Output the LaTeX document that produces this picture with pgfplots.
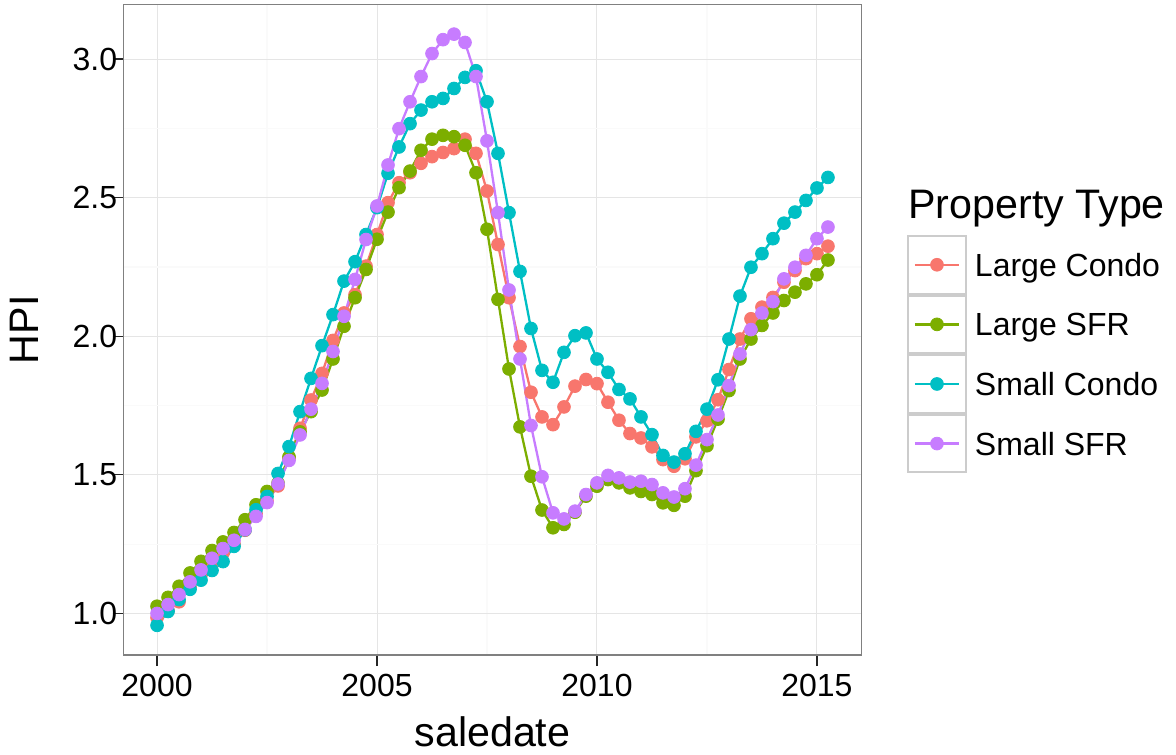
\documentclass[border=0pt]{standalone}
\usepackage{pgfplots}
\pgfplotsset{compat=1.18}
\usepackage{pgfplotstable}
\usepackage{fontspec}
\setmainfont{Liberation Sans}
\definecolor{cLC}{HTML}{F8766D}
\definecolor{cLS}{HTML}{7CAE00}
\definecolor{cSC}{HTML}{00BFC4}
\definecolor{cSS}{HTML}{C77CFF}
\pgfplotstableread{
t LC LS SC SS
2000.00 0.985 1.026 0.957 1.000
2000.25 1.010 1.058 1.007 1.032
2000.50 1.042 1.098 1.050 1.068
2000.75 1.095 1.146 1.087 1.114
2001.00 1.140 1.188 1.120 1.157
2001.25 1.180 1.227 1.155 1.199
2001.50 1.218 1.258 1.187 1.234
2001.75 1.250 1.292 1.242 1.264
2002.00 1.300 1.338 1.302 1.303
2002.25 1.360 1.392 1.374 1.350
2002.50 1.405 1.440 1.422 1.400
2002.75 1.460 1.470 1.505 1.467
2003.00 1.560 1.565 1.602 1.552
2003.25 1.668 1.655 1.728 1.644
2003.50 1.770 1.728 1.848 1.737
2003.75 1.866 1.806 1.966 1.830
2004.00 1.985 1.918 2.078 1.945
2004.25 2.084 2.036 2.199 2.072
2004.50 2.150 2.139 2.269 2.205
2004.75 2.253 2.241 2.367 2.349
2005.00 2.367 2.350 2.464 2.470
2005.25 2.482 2.448 2.588 2.618
2005.50 2.554 2.536 2.683 2.749
2005.75 2.590 2.596 2.767 2.846
2006.00 2.624 2.671 2.816 2.937
2006.25 2.648 2.711 2.846 3.020
2006.50 2.663 2.725 2.858 3.070
2006.75 2.677 2.720 2.894 3.090
2007.00 2.711 2.689 2.934 3.060
2007.25 2.660 2.590 2.958 2.937
2007.50 2.524 2.386 2.846 2.705
2007.75 2.331 2.133 2.660 2.446
2008.00 2.139 1.882 2.446 2.167
2008.25 1.963 1.673 2.234 1.918
2008.50 1.798 1.495 2.028 1.678
2008.75 1.709 1.373 1.877 1.493
2009.00 1.681 1.309 1.834 1.363
2009.25 1.745 1.321 1.942 1.341
2009.50 1.820 1.365 2.002 1.369
2009.75 1.844 1.423 2.012 1.429
2010.00 1.829 1.459 1.918 1.471
2010.25 1.762 1.483 1.870 1.498
2010.50 1.697 1.471 1.808 1.489
2010.75 1.649 1.453 1.774 1.474
2011.00 1.633 1.440 1.709 1.477
2011.25 1.601 1.429 1.645 1.465
2011.50 1.555 1.399 1.570 1.435
2011.75 1.531 1.390 1.546 1.420
2012.00 1.558 1.423 1.576 1.450
2012.25 1.637 1.515 1.657 1.535
2012.50 1.695 1.605 1.737 1.627
2012.75 1.771 1.701 1.843 1.716
2013.00 1.880 1.804 1.990 1.822
2013.25 1.990 1.918 2.145 1.936
2013.50 2.063 1.990 2.249 2.024
2013.75 2.105 2.039 2.298 2.084
2014.00 2.140 2.084 2.352 2.125
2014.25 2.195 2.129 2.408 2.207
2014.50 2.237 2.159 2.448 2.249
2014.75 2.280 2.189 2.490 2.292
2015.00 2.298 2.222 2.535 2.352
2015.25 2.325 2.275 2.573 2.394
}\hpi
\pgfplotsset{
  keyimg/.style={legend image code/.code={%
    \draw[black!20,fill=white,line width=1pt] (0pt,-14.4pt) rectangle (29pt,14.4pt);
    \draw[line width=1.15pt,#1] (3.5pt,0pt) -- (25.5pt,0pt);
    \fill[#1] (14.5pt,0pt) circle (3.2pt);}},
  lin/.style={line width=1.15pt, no markers, forget plot},
  pts/.style={only marks, mark=*, mark size=3.2pt},
}
\begin{document}
\begin{tikzpicture}
\begin{axis}[
  scale only axis, width=369pt, height=325.25pt,
  xmin=1999.2375, xmax=2016.0125, ymin=0.85, ymax=3.197,
  xtick={2000,2005,2010,2015}, xticklabels={2000,2005,2010,2015},
  ytick={1,1.5,2,2.5,3}, yticklabels={1.0,1.5,2.0,2.5,3.0},
  minor xtick={2002.5,2007.5,2012.5}, minor ytick={1.25,1.75,2.25,2.75},
  grid=both,
  major grid style={color=black!10, line width=0.5pt},
  minor grid style={color=black!2, line width=0.6pt},
  tick align=outside, major tick length=5.5pt, minor tick length=0pt,
  xtick pos=bottom, ytick pos=left,
  tick style={black!85, line width=0.65pt},
  axis line style={black!50, line width=0.8pt},
  ticklabel style={font=\fontsize{16}{19}\selectfont, inner sep=0pt},
  yticklabel style={anchor=east, xshift=2.5pt},
  xticklabel style={anchor=north, yshift=-4pt},
  xlabel={saledate}, ylabel={HPI},
  label style={font=\fontsize{20.6}{24}\selectfont, inner sep=0pt},
  xlabel style={at={(axis description cs:0.5,-0.1399)}, anchor=base},
  ylabel style={at={(axis description cs:-0.1152,0.5)}, anchor=base, rotate=0},
  legend style={at={(axis description cs:1.0616,0.6457)}, anchor=north west,
    draw=none, fill=none, inner sep=0pt, outer sep=0pt, row sep=0pt, column sep=4pt,
    font=\fontsize{16}{19}\selectfont,
    nodes={inner sep=0pt, text height=11.5pt, text depth=0pt}},
  legend cell align=left,
]
\addplot[lin, cLC] table[x=t,y=LC]{\hpi};
\addplot[lin, cLS] table[x=t,y=LS]{\hpi};
\addplot[lin, cSC] table[x=t,y=SC]{\hpi};
\addplot[lin, cSS] table[x=t,y=SS]{\hpi};
\addplot[pts, cLC, keyimg=cLC] table[x=t,y=LC]{\hpi};
\addlegendentry{Large Condo}
\addplot[pts, cLS, keyimg=cLS] table[x=t,y=LS]{\hpi};
\addlegendentry{Large SFR}
\addplot[pts, cSC, keyimg=cSC] table[x=t,y=SC]{\hpi};
\addlegendentry{Small Condo}
\addplot[pts, cSS, keyimg=cSS] table[x=t,y=SS]{\hpi};
\addlegendentry{Small SFR}
\end{axis}
\node[anchor=base west, inner sep=0pt, font=\fontsize{20.6}{24}\selectfont] at (392.25pt,218pt) {Property Type};
\pgfresetboundingbox
\useasboundingbox (-61.75pt,-49.5pt) rectangle (526.25pt,327.5pt);
\end{tikzpicture}
\end{document}
